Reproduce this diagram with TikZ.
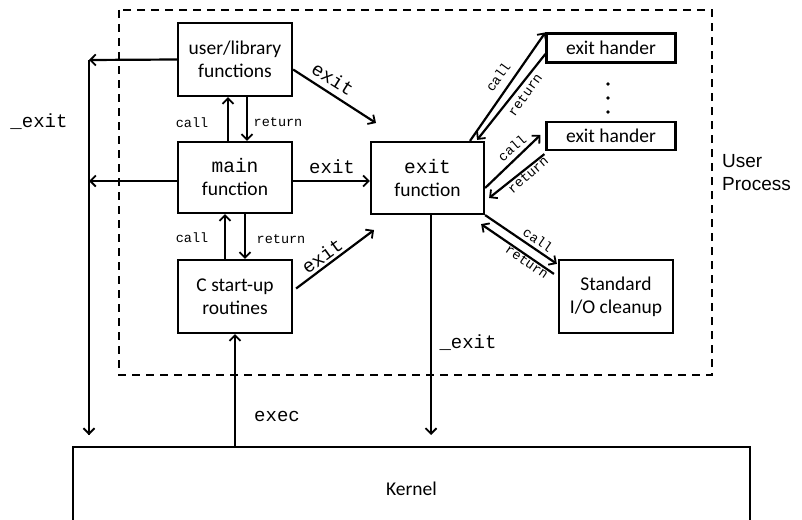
\documentclass[tikz,border=0pt]{standalone}
\usepackage{fontspec}
\setmainfont{Carlito}
\newfontfamily\monofont{Liberation Mono}
\newfontfamily\helvfont{Liberation Sans}
\usetikzlibrary{arrows.meta,calc}
\tikzset{
  box/.style={draw, line width=2.2pt, align=center, inner sep=0pt, font=\fontsize{19.5}{23}\selectfont},
  conn/.style={line width=2.2pt, -{Straight Barb[length=5.5pt,width=11pt,line width=1.8pt]}},
  big/.style={font=\monofont\fontsize{19}{22}\selectfont, inner sep=0pt},
  small/.style={font=\monofont\fontsize{13.5}{16}\selectfont, inner sep=0pt},
}
\begin{document}
\begin{tikzpicture}[x=1pt,y=-1pt]
\clip (0,0) rectangle (802,519);
\useasboundingbox (0,0) rectangle (802,519);
% dashed user-process frame
\draw[line width=2.2pt, dash pattern=on 8pt off 6pt] (119,10) rectangle (712,375);
% boxes
\node[box, minimum width=114pt, minimum height=73pt] (userlib) at (235,59.5) {user/library\\functions};
\node[box, minimum width=114pt, minimum height=71pt] (main) at (235,177.5) {{\monofont main}\\function};
\node[box, minimum width=114pt, minimum height=73pt] (cstart) at (235,296.5) {C start-up\\routines};
\node[box, minimum width=113pt, minimum height=72pt] (exitf) at (427.5,178) {{\monofont exit}\\function};
\node[box, minimum width=129pt, minimum height=29pt] (eh1) at (611,48) {exit hander};
\node[box, minimum width=129pt, minimum height=28pt] (eh2) at (611,136) {exit hander};
\node[box, minimum width=114pt, minimum height=73pt] (stdio) at (616,296.5) {Standard\\I/O cleanup};
\node[box, minimum width=677pt, minimum height=83pt] (kernel) at (411.5,488.5) {Kernel};
% dots
\foreach \yy in {84,98,112} \fill (608,\yy) circle (1.8pt);
% coordinates
\coordinate (ltop) at (89,60);
\coordinate (lbot) at (89,435);
\coordinate (lmain) at (89,181);
\coordinate (ue) at (376,123);
\coordinate (ce) at (374,230);
\coordinate (kexit) at (431,435);
% left _exit line
\draw[line width=2.2pt] (ltop) -- (lbot);
\draw[conn] (lmain) -- (lbot);
\draw[conn] (userlib.west) -- (ltop);
\draw[conn] ($(main.west)+(0,3.5)$) -- (lmain);
\node[big] at (39,122) {\_exit};
% call / return userlib-main
\draw[conn] ($(main.north)+(-7,0)$) -- ($(userlib.south)+(-7,0)$);
\draw[conn] ($(userlib.south)+(12,0)$) -- ($(main.north)+(12,0)$);
\node[small] at (192,123) {call};
\node[small] at (278,122) {return};
% call / return main-cstart
\draw[conn] ($(cstart.north)+(-10,0)$) -- ($(main.south)+(-10,0)$);
\draw[conn] ($(main.south)+(10,0)$) -- ($(cstart.north)+(10,0)$);
\node[small] at (192,238) {call};
\node[small] at (281,239) {return};
% exit arrows
\draw[conn] ($(userlib.east)+(0,10)$) -- (ue);
\node[big, rotate=-32] at (333,79) {exit};
\draw[conn] ($(main.east)+(0,3.5)$) -- ($(exitf.west)+(0,3)$);
\node[big] at (332,167) {exit};
\draw[conn] ($(cstart.east)+(3,-8)$) -- (ce);
\node[big, rotate=36] at (322,256) {exit};
% exit handler 1
\draw[conn] ($(exitf.north)+(42.5,0)$) -- (eh1.north west);
\draw[conn] ($(eh1.west)+(0,6)$) -- ($(exitf.north east)+(-8,-1)$);
\node[small, rotate=54.5] at (498,77) {call};
\node[small, rotate=54.5] at (525,95) {return};
% exit handler 2
\draw[conn] ($(exitf.east)+(0,10)$) -- ($(eh2.west)+(-5,-1)$);
\draw[conn] ($(eh2.south west)+(-1,3)$) -- ($(exitf.east)+(4,20)$);
\node[small, rotate=41] at (512,148) {call};
\node[small, rotate=41] at (528,175) {return};
% stdio
\draw[conn] (exitf.south east) -- ($(stdio.north west)+(-1,5)$);
\draw[conn] ($(stdio.north west)+(-4,15)$) -- ($(exitf.south east)+(-4,9)$);
\node[small, rotate=-34.6] at (538,240) {call};
\node[small, rotate=-34.6] at (527,262) {return};
% _exit to kernel
\draw[conn] ($(exitf.south)+(3.5,0)$) -- (kexit);
\node[big] at (468,343) {\_exit};
% exec
\draw[conn] (kernel.north -| cstart.south) -- (cstart.south);
\node[big] at (277,416) {exec};
% User Process
\node[anchor=west, align=left, inner sep=0pt, font=\helvfont\fontsize{19}{23}\selectfont] at (722,173) {User\\Process};
\end{tikzpicture}
\end{document}
